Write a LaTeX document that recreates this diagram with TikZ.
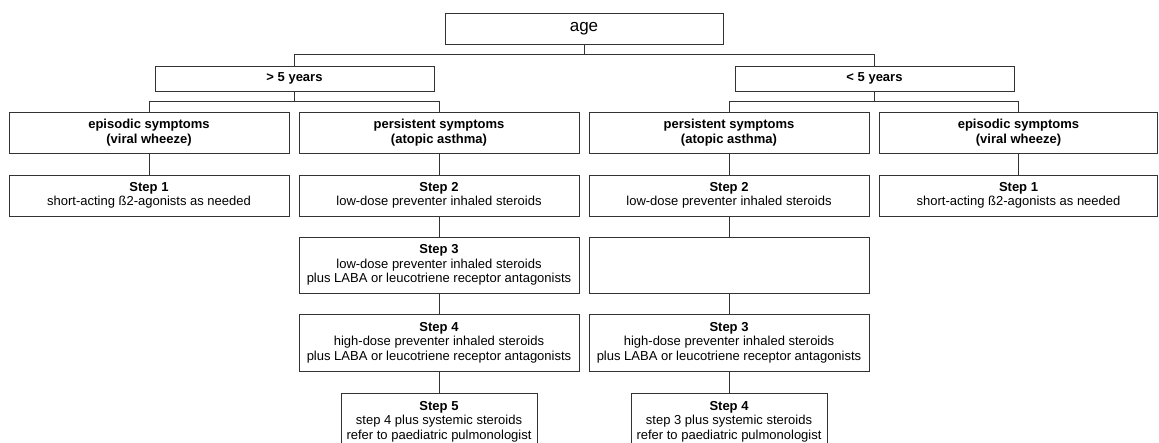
\documentclass[tikz,border=0pt]{standalone}
\usepackage{fontspec}
\setmainfont{Liberation Sans}
\tikzset{
  box/.style={draw=black!80, line width=0.9pt, inner sep=0pt, align=center,
    font=\fontsize{13}{14.5}\selectfont},
  headbox/.style={box, font=\fontsize{13}{14.5}\selectfont\bfseries},
  colbox/.style={box, minimum width=280pt},
  link/.style={draw=black!80, line width=0.9pt},
}
\begin{document}
\begin{tikzpicture}[x=1pt,y=-1pt]
  \clip (0,0) rectangle (1159,443);
  % top and age groups
  \node[box, minimum width=278pt, minimum height=31pt, font=\fontsize{17}{20}\selectfont] (age) at (584,29) {age};
  \node[headbox, minimum width=279pt, minimum height=25pt] (gt5) at (294.5,78.5) {> 5 years};
  \node[headbox, minimum width=279pt, minimum height=25pt] (lt5) at (874.5,78.5) {< 5 years};
  % symptom row
  \node[colbox, headbox, minimum height=41pt] (gtepi) at (149,132.5) {episodic symptoms\\(viral wheeze)};
  \node[colbox, headbox, minimum height=41pt] (gtper) at (439,132.5) {persistent symptoms\\(atopic asthma)};
  \node[colbox, headbox, minimum height=41pt] (ltper) at (729,132.5) {persistent symptoms\\(atopic asthma)};
  \node[colbox, headbox, minimum width=278pt, minimum height=41pt] (ltepi) at (1018.5,132.5) {episodic symptoms\\(viral wheeze)};
  % steps
  \node[colbox, minimum height=41pt] (gtsone) at (149,195.5) {\textbf{Step 1}\\short-acting ß2-agonists as needed};
  \node[colbox, minimum height=41pt] (gtstwo) at (439,195.5) {\textbf{Step 2}\\low-dose preventer inhaled steroids};
  \node[colbox, minimum height=41pt] (ltstwo) at (729,195.5) {\textbf{Step 2}\\low-dose preventer inhaled steroids};
  \node[colbox, minimum width=278pt, minimum height=41pt] (ltsone) at (1018.5,195.5) {\textbf{Step 1}\\short-acting ß2-agonists as needed};
  \node[colbox, minimum height=56pt] (gtsthree) at (439,265) {\textbf{Step 3}\\low-dose preventer inhaled steroids\\plus LABA or leucotriene receptor antagonists};
  \node[colbox, minimum height=56pt] (ltempty) at (729,265) {};
  \node[colbox, minimum height=57pt] (gtsfour) at (439,342.5) {\textbf{Step 4}\\high-dose preventer inhaled steroids\\plus LABA or leucotriene receptor antagonists};
  \node[colbox, minimum height=57pt] (ltsthree) at (729,342.5) {\textbf{Step 3}\\high-dose preventer inhaled steroids\\plus LABA or leucotriene receptor antagonists};
  \node[box, minimum width=196pt, minimum height=57pt] (gtsfive) at (439,421.5) {\textbf{Step 5}\\step 4 plus systemic steroids\\refer to paediatric pulmonologist};
  \node[box, minimum width=196pt, minimum height=57pt] (ltsfour) at (729,421.5) {\textbf{Step 4}\\step 3 plus systemic steroids\\refer to paediatric pulmonologist};
  % connectors
  \coordinate (agej) at (584,54.5);
  \coordinate (gt5j) at (294.5,101.5);
  \coordinate (lt5j) at (874.5,101.5);
  \draw[link] (age) -- (agej);
  \draw[link] (gt5.north) |- (agej) -| (lt5.north);
  \draw[link] (gt5) -- (gt5j);
  \draw[link] (gtepi.north) |- (gt5j) -| (gtper.north);
  \draw[link] (lt5) -- (lt5j);
  \draw[link] (ltper.north) |- (lt5j) -| (ltepi.north);
  \draw[link] (gtepi) -- (gtsone);
  \draw[link] (gtper) -- (gtstwo);
  \draw[link] (gtstwo) -- (gtsthree);
  \draw[link] (gtsthree) -- (gtsfour);
  \draw[link] (gtsfour) -- (gtsfive);
  \draw[link] (ltper) -- (ltstwo);
  \draw[link] (ltstwo) -- (ltempty);
  \draw[link] (ltempty) -- (ltsthree);
  \draw[link] (ltsthree) -- (ltsfour);
  \draw[link] (ltepi) -- (ltsone);
\end{tikzpicture}
\end{document}
